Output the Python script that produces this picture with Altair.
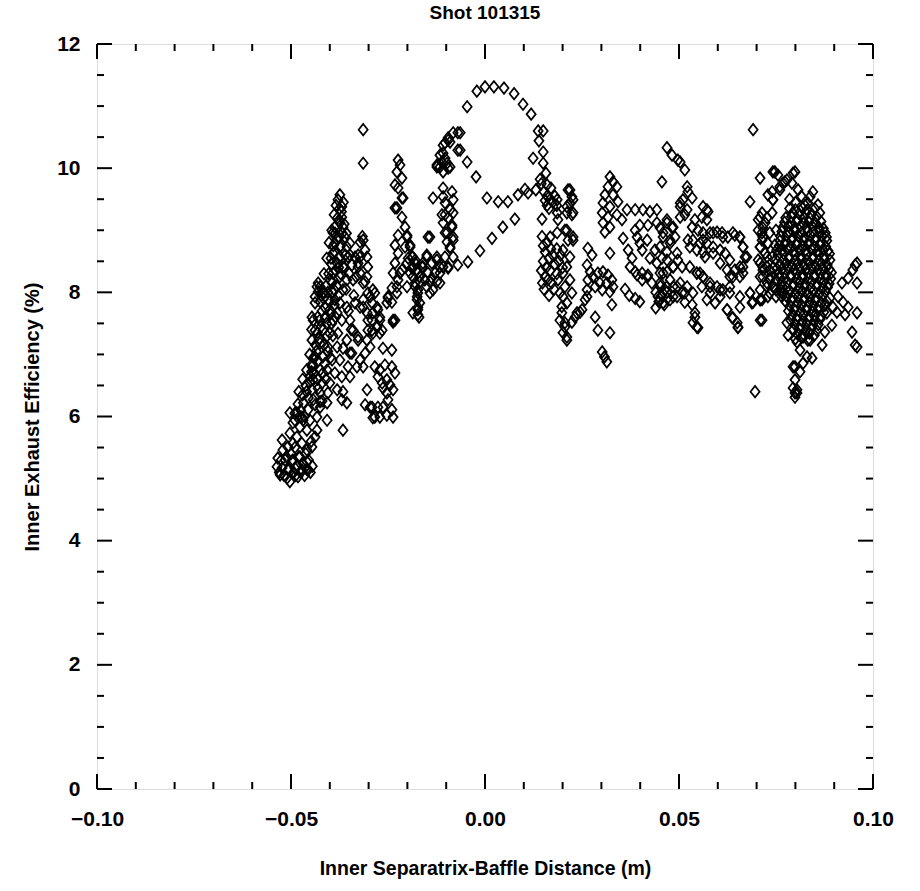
import altair as alt
import pandas as pd

FONT = "Liberation Sans"

# ---- data (x in m, y in %) ----
left_blob = [
    (-0.0534, 5.33), (-0.0536, 5.19), (-0.0528, 5.06), (-0.0523, 5.17), (-0.0523, 5.62), (-0.0521, 5.46),
    (-0.0515, 5.30), (-0.0510, 5.01), (-0.0508, 5.14), (-0.0508, 5.51), (-0.0503, 4.95), (-0.0503, 5.73),
    (-0.0495, 5.30), (-0.0495, 5.57), (-0.0495, 5.90), (-0.0490, 5.17), (-0.0485, 5.67), (-0.0485, 6.06),
    (-0.0482, 5.03), (-0.0477, 5.35), (-0.0477, 5.83), (-0.0472, 5.14), (-0.0472, 5.57), (-0.0469, 5.94),
    (-0.0459, 5.27), (-0.0459, 5.46), (-0.0459, 5.78), (-0.0456, 5.14), (-0.0451, 5.94), (-0.0446, 5.51),
    (-0.0438, 5.67), (-0.0433, 5.78), (-0.0433, 5.99), (-0.0530, 5.10), (-0.0525, 5.30), (-0.0518, 5.05),
    (-0.0512, 5.35), (-0.0505, 5.15), (-0.0500, 5.40), (-0.0498, 5.28), (-0.0493, 5.10), (-0.0490, 5.50),
    (-0.0488, 5.05), (-0.0483, 5.20), (-0.0480, 5.35), (-0.0475, 5.10), (-0.0470, 5.25), (-0.0465, 5.05),
    (-0.0462, 5.40), (-0.0460, 5.15), (-0.0455, 5.30), (-0.0450, 5.10), (-0.0448, 5.60), (-0.0445, 5.20),
    (-0.0503, 6.06), (-0.0490, 5.94), (-0.0472, 5.99), (-0.0456, 6.11), (-0.0438, 6.19), (-0.0425, 6.24),
    (-0.0407, 5.94), (-0.0366, 5.78),
]

left_spine = [
    (-0.0374, 9.57), (-0.0379, 9.49), (-0.0369, 9.38), (-0.0384, 9.40), (-0.0369, 9.21), (-0.0387, 9.05),
    (-0.0374, 9.12), (-0.0366, 9.05), (-0.0392, 8.96), (-0.0379, 8.89), (-0.0361, 8.89), (-0.0387, 8.79),
    (-0.0374, 8.73), (-0.0356, 8.73), (-0.0392, 8.63), (-0.0374, 8.57), (-0.0348, 8.60), (-0.0335, 8.57),
    (-0.0381, 8.47), (-0.0366, 8.41), (-0.0343, 8.44), (-0.0327, 8.47), (-0.0322, 8.31), (-0.0392, 8.31),
    (-0.0374, 8.25), (-0.0356, 8.20), (-0.0340, 8.20), (-0.0394, 8.15), (-0.0381, 8.09), (-0.0366, 8.04),
    (-0.0309, 8.17), (-0.0302, 7.99), (-0.0425, 8.09), (-0.0430, 8.01), (-0.0418, 7.99), (-0.0438, 7.83),
    (-0.0405, 7.88), (-0.0387, 7.88), (-0.0374, 7.83), (-0.0356, 7.76), (-0.0335, 7.83), (-0.0322, 7.76),
    (-0.0400, 7.72), (-0.0381, 7.67), (-0.0412, 7.60), (-0.0392, 7.55), (-0.0369, 7.55), (-0.0348, 7.55),
    (-0.0443, 7.55), (-0.0438, 7.39), (-0.0418, 7.39), (-0.0400, 7.34), (-0.0379, 7.34), (-0.0340, 7.39),
    (-0.0327, 7.28), (-0.0446, 7.23), (-0.0425, 7.18), (-0.0405, 7.12), (-0.0381, 7.12), (-0.0366, 7.10),
    (-0.0348, 7.02), (-0.0438, 6.96), (-0.0418, 6.96), (-0.0394, 6.91), (-0.0374, 6.91), (-0.0446, 6.80),
    (-0.0425, 6.75), (-0.0407, 6.75), (-0.0387, 6.70), (-0.0369, 6.64), (-0.0353, 6.80), (-0.0348, 6.64),
    (-0.0443, 6.59), (-0.0420, 6.54), (-0.0400, 6.54), (-0.0446, 6.43), (-0.0425, 6.38), (-0.0405, 6.38),
    (-0.0381, 6.43), (-0.0366, 6.40), (-0.0356, 6.22), (-0.0443, 6.27), (-0.0425, 6.15), (-0.0407, 6.22),
    (-0.0369, 6.27), (-0.0490, 6.05), (-0.0482, 6.20), (-0.0475, 6.10), (-0.0470, 6.35), (-0.0462, 6.50),
    (-0.0455, 6.30), (-0.0450, 6.65), (-0.0445, 6.85), (-0.0440, 6.70), (-0.0435, 7.05), (-0.0430, 6.90),
    (-0.0428, 7.25), (-0.0422, 7.45), (-0.0415, 7.15), (-0.0412, 7.75), (-0.0408, 7.50), (-0.0405, 8.00),
    (-0.0400, 7.85), (-0.0398, 8.20), (-0.0395, 8.45), (-0.0390, 8.05), (-0.0388, 8.65), (-0.0385, 8.35),
    (-0.0382, 8.85), (-0.0378, 8.55), (-0.0376, 9.15), (-0.0372, 8.75), (-0.0370, 9.30), (-0.0368, 8.95),
    (-0.0365, 9.45), (-0.0420, 6.25), (-0.0410, 6.60), (-0.0398, 6.95), (-0.0392, 7.30), (-0.0385, 7.60),
    (-0.0378, 7.95), (-0.0372, 8.30), (-0.0362, 8.40), (-0.0358, 8.05), (-0.0352, 7.70), (-0.0345, 7.40),
    (-0.0338, 7.95), (-0.0332, 8.25), (-0.0430, 8.15), (-0.0438, 7.93), (-0.0433, 8.09), (-0.0446, 7.60),
]

spine_fill = [
    (-0.0478, 6.00), (-0.0468, 6.22), (-0.0460, 6.40), (-0.0452, 6.55), (-0.0447, 6.72), (-0.0442, 6.95),
    (-0.0437, 7.15), (-0.0432, 7.35), (-0.0426, 7.55), (-0.0420, 7.70), (-0.0416, 7.90), (-0.0410, 8.10),
    (-0.0403, 8.30), (-0.0397, 8.55), (-0.0391, 8.75), (-0.0386, 8.95), (-0.0380, 9.20), (-0.0375, 9.35),
    (-0.0460, 6.75), (-0.0452, 7.00), (-0.0447, 7.40), (-0.0431, 7.60), (-0.0425, 7.85), (-0.0415, 8.30),
    (-0.0408, 8.55), (-0.0402, 8.80), (-0.0395, 9.00), (-0.0389, 9.25), (-0.0413, 6.85), (-0.0405, 7.05),
    (-0.0395, 7.50), (-0.0388, 7.80), (-0.0382, 8.10), (-0.0377, 8.40), (-0.0360, 8.60), (-0.0363, 9.10),
    (-0.0357, 8.95), (-0.0350, 8.30), (-0.0430, 6.45), (-0.0418, 6.70), (-0.0407, 7.30), (-0.0398, 7.65),
    (-0.0392, 8.00), (-0.0415, 8.00), (-0.0422, 7.95), (-0.0432, 6.60), (-0.0470, 6.60), (-0.0480, 6.40),
    (-0.0465, 6.00),
]

left_band = [
    (-0.0348, 8.79), (-0.0353, 8.57), (-0.0322, 8.57), (-0.0327, 8.41), (-0.0304, 8.25), (-0.0314, 8.15),
    (-0.0289, 8.04), (-0.0296, 7.93), (-0.0278, 7.76), (-0.0289, 7.67), (-0.0271, 7.55), (-0.0314, 7.76),
    (-0.0302, 7.55), (-0.0237, 7.55), (-0.0314, 7.88), (-0.0304, 7.67), (-0.0291, 7.83), (-0.0284, 7.99),
    (-0.0276, 7.72), (-0.0278, 7.44), (-0.0291, 7.39), (-0.0265, 7.39), (-0.0271, 7.34), (-0.0296, 7.12),
    (-0.0309, 7.02), (-0.0322, 6.91), (-0.0314, 6.80), (-0.0330, 6.80), (-0.0343, 7.02), (-0.0327, 7.23),
    (-0.0356, 7.23), (-0.0322, 8.81), (-0.0309, 8.68), (-0.0304, 8.57), (-0.0302, 8.41), (-0.0327, 8.60),
    (-0.0314, 10.62), (-0.0314, 10.08), (-0.0314, 8.84), (-0.0316, 8.90),
    (-0.0284, 6.80), (-0.0271, 6.75), (-0.0258, 6.83), (-0.0240, 6.80), (-0.0232, 6.70), (-0.0253, 6.59),
    (-0.0265, 6.54), (-0.0276, 6.64), (-0.0245, 6.51), (-0.0237, 6.43), (-0.0253, 6.38), (-0.0263, 6.46),
    (-0.0250, 6.27), (-0.0240, 6.11), (-0.0237, 5.99), (-0.0253, 6.02), (-0.0271, 5.99), (-0.0289, 5.98),
    (-0.0296, 6.15), (-0.0276, 6.15), (-0.0304, 6.43), (-0.0309, 6.19), (-0.0240, 7.07), (-0.0263, 7.10),
    (-0.0289, 7.34), (-0.0291, 7.55), (-0.0302, 7.39), (-0.0304, 7.23), (-0.0237, 7.52), (-0.0271, 7.60),
    (-0.0291, 6.15), (-0.0284, 5.99), (-0.0263, 6.15),
]

column_a = [
    (-0.0224, 10.13), (-0.0219, 10.05), (-0.0227, 9.94), (-0.0214, 9.84), (-0.0232, 9.73), (-0.0224, 9.68),
    (-0.0214, 9.52), (-0.0227, 9.36), (-0.0214, 9.21), (-0.0206, 9.05), (-0.0224, 8.92), (-0.0201, 8.89),
    (-0.0232, 8.76), (-0.0206, 8.73), (-0.0193, 8.73), (-0.0224, 8.63), (-0.0198, 8.55), (-0.0232, 8.47),
    (-0.0214, 8.36), (-0.0237, 8.31), (-0.0224, 8.20), (-0.0240, 8.07), (-0.0227, 7.99), (-0.0250, 7.91),
    (-0.0240, 7.84), (-0.0253, 7.83), (-0.0211, 9.52), (-0.0232, 9.36), (-0.0201, 8.92), (-0.0193, 8.76),
    (-0.0219, 8.31), (-0.0227, 8.09), (-0.0250, 7.93), (-0.0232, 7.55),
]

column_b = [
    (-0.0201, 8.47), (-0.0188, 8.57), (-0.0180, 8.52), (-0.0186, 8.41), (-0.0193, 8.31), (-0.0175, 8.36),
    (-0.0168, 8.25), (-0.0180, 8.15), (-0.0173, 8.04), (-0.0175, 7.93), (-0.0168, 7.83), (-0.0173, 7.72),
    (-0.0170, 7.60), (-0.0160, 8.41), (-0.0155, 8.20), (-0.0150, 8.09), (-0.0147, 8.31), (-0.0137, 8.47),
    (-0.0142, 7.99), (-0.0134, 8.04), (-0.0124, 8.17), (-0.0116, 8.31), (-0.0108, 8.41), (-0.0150, 8.60),
    (-0.0186, 8.57), (-0.0180, 8.47), (-0.0188, 8.39), (-0.0173, 8.31), (-0.0186, 8.25), (-0.0168, 8.17),
    (-0.0180, 8.09), (-0.0173, 7.99), (-0.0175, 7.88), (-0.0173, 7.76), (-0.0173, 7.64), (-0.0201, 8.09),
    (-0.0160, 8.47), (-0.0142, 8.17), (-0.0142, 8.89), (-0.0150, 8.57), (-0.0124, 8.52), (-0.0129, 8.31),
    (-0.0137, 8.23), (-0.0116, 8.15), (-0.0162, 8.41), (-0.0186, 7.67), (-0.0147, 8.89),
]

column_c = [
    (-0.0095, 10.49), (-0.0090, 10.42), (-0.0103, 10.41), (-0.0082, 10.57), (-0.0070, 10.57), (-0.0070, 10.29),
    (-0.0108, 10.24), (-0.0111, 10.10), (-0.0098, 10.08), (-0.0116, 10.02), (-0.0124, 10.02), (-0.0090, 10.02),
    (-0.0108, 9.94), (-0.0134, 9.52), (-0.0108, 9.54), (-0.0108, 9.68), (-0.0085, 9.62), (-0.0082, 9.49),
    (-0.0103, 9.44), (-0.0090, 9.33), (-0.0111, 9.25), (-0.0095, 9.20), (-0.0108, 9.12), (-0.0085, 9.05),
    (-0.0098, 8.96), (-0.0082, 8.84), (-0.0090, 8.73), (-0.0082, 8.57), (-0.0070, 8.44), (-0.0095, 8.41),
    (-0.0103, 9.25), (-0.0082, 9.28), (-0.0085, 9.08), (-0.0103, 8.96), (-0.0082, 8.89), (-0.0098, 8.81),
    (-0.0090, 8.71), (-0.0103, 8.57), (-0.0116, 8.41), (-0.0095, 8.39), (-0.0124, 8.57), (-0.0095, 10.45),
    (-0.0108, 10.37), (-0.0116, 10.21), (-0.0103, 10.16), (-0.0124, 10.05), (-0.0095, 10.00),
]

arc = [
    (-0.0046, 10.99), (-0.0021, 11.24), (0.0000, 11.31), (0.0023, 11.31), (0.0049, 11.29), (0.0075, 11.20),
    (0.0098, 11.03), (0.0119, 10.87), (0.0137, 10.60), (0.0150, 10.60), (0.0139, 10.44), (0.0150, 10.26),
    (0.0124, 10.16), (0.0150, 10.08), (0.0157, 9.92), (0.0142, 9.82), (0.0160, 9.73),
    (-0.0064, 10.57), (-0.0064, 10.29), (-0.0046, 10.10), (-0.0023, 9.86), (0.0005, 9.52), (0.0034, 9.46),
    (0.0059, 9.46), (0.0085, 9.57), (0.0103, 9.66), (0.0111, 9.60), (0.0131, 9.65),
    (-0.0044, 8.49), (-0.0013, 8.67), (0.0018, 8.87), (0.0046, 9.05), (0.0077, 9.18), (0.0147, 9.18),
    (0.0145, 9.75), (0.0152, 9.62), (0.0160, 9.55), (0.0168, 9.50), (0.0175, 9.45), (0.0160, 9.40),
    (0.0170, 9.68), (0.0180, 9.55), (0.0185, 9.40), (0.0155, 9.48), (0.0165, 9.35),
]

middle = [
    (0.0186, 9.49), (0.0214, 9.65), (0.0224, 9.54), (0.0219, 9.44), (0.0211, 9.28), (0.0227, 9.28),
    (0.0186, 9.28), (0.0188, 9.17), (0.0211, 9.00), (0.0227, 8.89), (0.0186, 8.96), (0.0168, 8.89),
    (0.0219, 9.65), (0.0227, 9.49), (0.0211, 9.38), (0.0224, 9.25), (0.0206, 9.00), (0.0214, 8.84),
    (0.0227, 8.84), (0.0201, 8.68), (0.0219, 8.57), (0.0211, 8.41), (0.0201, 8.31), (0.0219, 8.20),
    (0.0206, 8.09), (0.0224, 7.99), (0.0201, 7.93), (0.0211, 7.83), (0.0198, 7.67), (0.0206, 7.51),
    (0.0224, 7.52), (0.0237, 7.67), (0.0250, 7.72), (0.0201, 7.35), (0.0211, 7.23), (0.0232, 7.60),
    (0.0245, 7.68), (0.0147, 8.90), (0.0150, 8.75), (0.0155, 8.65), (0.0160, 8.80), (0.0165, 8.55),
    (0.0170, 8.70), (0.0150, 8.50), (0.0158, 8.40), (0.0168, 8.35), (0.0175, 8.60), (0.0180, 8.45),
    (0.0185, 8.30), (0.0155, 8.25), (0.0148, 8.15), (0.0162, 8.20), (0.0172, 8.15), (0.0178, 8.05),
    (0.0165, 7.95), (0.0190, 8.50), (0.0185, 8.70), (0.0195, 8.60), (0.0200, 8.40), (0.0188, 8.20),
    (0.0152, 8.05), (0.0145, 8.35), (0.0193, 7.99), (0.0198, 7.77), (0.0206, 7.44), (0.0193, 7.55),
    (0.0211, 7.28), (0.0263, 7.93),
]

middle_right = [
    (0.0265, 8.71), (0.0276, 8.60), (0.0263, 8.44), (0.0271, 8.33), (0.0265, 8.20), (0.0263, 8.04),
    (0.0258, 7.88), (0.0322, 8.63), (0.0278, 8.25), (0.0291, 8.31), (0.0304, 8.33), (0.0317, 8.28),
    (0.0327, 8.20), (0.0330, 8.09), (0.0314, 8.15), (0.0296, 8.15), (0.0284, 8.09), (0.0302, 8.04),
    (0.0322, 8.01), (0.0327, 7.80), (0.0284, 7.60), (0.0291, 7.39), (0.0322, 7.35), (0.0302, 7.04),
    (0.0314, 6.88), (0.0308, 6.96), (0.0322, 9.86), (0.0330, 9.78), (0.0317, 9.70), (0.0340, 9.70),
    (0.0309, 9.57), (0.0330, 9.57), (0.0304, 9.44), (0.0322, 9.38), (0.0343, 9.46), (0.0302, 9.28),
    (0.0317, 9.21), (0.0340, 9.25), (0.0304, 9.12), (0.0322, 9.05), (0.0309, 8.97), (0.0353, 9.17),
    (0.0366, 9.33), (0.0387, 9.33), (0.0407, 9.33), (0.0425, 9.30), (0.0443, 9.33), (0.0456, 9.78),
    (0.0469, 10.33), (0.0482, 10.21), (0.0497, 10.13), (0.0515, 9.97), (0.0503, 10.10),
]

loop = [
    (0.0356, 8.87), (0.0369, 8.68), (0.0379, 8.55), (0.0374, 8.41), (0.0387, 8.33), (0.0405, 8.31),
    (0.0420, 8.28), (0.0399, 9.08), (0.0387, 9.00), (0.0392, 8.89), (0.0399, 8.79), (0.0405, 8.68),
    (0.0418, 8.84), (0.0420, 9.08), (0.0443, 9.12), (0.0451, 9.04), (0.0459, 8.89), (0.0469, 9.12),
    (0.0482, 9.04), (0.0490, 8.89), (0.0438, 8.68), (0.0425, 8.55), (0.0443, 8.47), (0.0456, 8.55),
    (0.0469, 8.65), (0.0477, 8.79), (0.0451, 8.31), (0.0469, 8.33), (0.0485, 8.41), (0.0497, 8.52),
    (0.0451, 8.15), (0.0469, 8.09), (0.0485, 8.09), (0.0446, 7.93), (0.0459, 7.83), (0.0477, 7.88),
    (0.0495, 7.93), (0.0503, 8.15), (0.0515, 7.99), (0.0503, 9.44), (0.0515, 9.25), (0.0523, 8.84),
    (0.0392, 8.28), (0.0405, 8.20), (0.0418, 8.25), (0.0430, 8.15), (0.0440, 8.00), (0.0448, 7.85),
    (0.0455, 7.95), (0.0462, 7.80), (0.0470, 7.90), (0.0440, 7.75), (0.0452, 8.10), (0.0468, 8.00),
    (0.0361, 8.05), (0.0372, 7.95), (0.0387, 7.90), (0.0399, 7.85),
    (0.0521, 9.70), (0.0523, 9.62), (0.0510, 9.49), (0.0534, 9.52), (0.0503, 9.38), (0.0521, 9.33),
    (0.0503, 9.21), (0.0469, 9.17), (0.0485, 9.05), (0.0459, 8.96), (0.0477, 8.84), (0.0451, 8.73),
    (0.0495, 8.63), (0.0469, 8.52), (0.0485, 8.41), (0.0459, 8.31), (0.0477, 8.20), (0.0495, 8.09),
    (0.0464, 8.04), (0.0485, 7.93), (0.0508, 7.99), (0.0521, 8.09), (0.0536, 7.99), (0.0515, 7.84),
    (0.0534, 7.80), (0.0541, 7.60), (0.0536, 7.51), (0.0549, 7.43), (0.0546, 7.44), (0.0541, 7.67),
    (0.0508, 8.41), (0.0528, 8.41), (0.0546, 8.31),
]

right_middle = [
    (0.0562, 9.38), (0.0575, 9.30), (0.0559, 9.21), (0.0572, 9.17), (0.0541, 9.17), (0.0534, 9.05),
    (0.0549, 9.00), (0.0562, 8.96), (0.0580, 8.96), (0.0598, 8.97), (0.0611, 8.96), (0.0626, 8.89),
    (0.0644, 8.92), (0.0657, 8.89), (0.0536, 8.84), (0.0554, 8.79), (0.0572, 8.79), (0.0528, 8.73),
    (0.0546, 8.68), (0.0562, 8.65), (0.0588, 8.73), (0.0606, 8.68), (0.0619, 8.63), (0.0631, 8.52),
    (0.0665, 8.73), (0.0675, 8.57), (0.0665, 8.41), (0.0644, 8.36), (0.0657, 8.25), (0.0631, 8.25),
    (0.0562, 8.25), (0.0559, 8.09), (0.0580, 8.15), (0.0598, 8.09), (0.0613, 8.04), (0.0631, 8.09),
    (0.0580, 7.99), (0.0606, 7.93), (0.0572, 7.88), (0.0593, 7.83), (0.0624, 7.72), (0.0637, 7.59),
    (0.0650, 7.51), (0.0652, 7.43), (0.0683, 7.99), (0.0691, 7.84), (0.0709, 7.88), (0.0709, 7.55),
    (0.0657, 7.76), (0.0691, 10.62), (0.0709, 9.84), (0.0747, 9.94), (0.0755, 9.89), (0.0729, 9.57),
    (0.0742, 9.49), (0.0683, 9.46), (0.0760, 9.70), (0.0773, 9.78), (0.0572, 9.33), (0.0562, 8.84),
    (0.0588, 8.96), (0.0613, 8.89), (0.0639, 8.96), (0.0657, 8.89), (0.0665, 8.73), (0.0670, 8.57),
    (0.0657, 8.41), (0.0665, 8.31), (0.0639, 8.25), (0.0624, 8.36), (0.0606, 8.47), (0.0588, 8.63),
    (0.0567, 8.57), (0.0554, 8.31), (0.0580, 8.09), (0.0606, 8.04), (0.0631, 7.99), (0.0657, 7.93),
    (0.0683, 7.99), (0.0709, 7.88), (0.0624, 7.72), (0.0639, 7.59), (0.0652, 7.44), (0.0688, 7.83),
    (0.0696, 6.40), (0.0546, 8.31), (0.0562, 8.25),
]

right_left_lobe = [
    (0.0709, 9.21), (0.0722, 9.12), (0.0704, 9.00), (0.0716, 8.89), (0.0729, 8.79), (0.0709, 8.73),
    (0.0722, 8.63), (0.0704, 8.52), (0.0716, 8.41), (0.0734, 8.36), (0.0709, 8.25), (0.0727, 8.15),
    (0.0742, 8.09), (0.0709, 8.04), (0.0734, 7.99), (0.0750, 7.93), (0.0765, 7.93), (0.0704, 9.17),
    (0.0714, 8.96), (0.0709, 8.73), (0.0727, 8.57), (0.0716, 8.36), (0.0734, 8.20), (0.0750, 8.04),
    (0.0765, 7.99), (0.0714, 9.28), (0.0727, 9.20), (0.0740, 9.28), (0.0716, 9.04), (0.0734, 8.96),
    (0.0750, 9.00), (0.0714, 8.84), (0.0729, 8.79), (0.0747, 8.76), (0.0722, 8.63), (0.0740, 8.57),
    (0.0709, 8.47), (0.0727, 8.41), (0.0742, 8.39), (0.0716, 8.25), (0.0734, 8.23), (0.0750, 8.20),
    (0.0727, 8.09), (0.0747, 8.07), (0.0763, 8.04), (0.0714, 7.88), (0.0714, 7.55), (0.0729, 7.93),
]

right_core = [
    (0.0742, 9.94), (0.0794, 9.92), (0.0799, 9.94), (0.0778, 9.81), (0.0768, 9.76), (0.0760, 9.65),
    (0.0791, 9.76), (0.0807, 9.65), (0.0740, 9.62), (0.0742, 9.49), (0.0845, 9.62), (0.0838, 9.54),
    (0.0832, 9.44), (0.0858, 9.41), (0.0863, 9.28),
    (0.0785, 9.50), (0.0800, 9.45), (0.0815, 9.55), (0.0825, 9.40),
    (0.0785, 9.35), (0.0800, 9.33), (0.0818, 9.36), (0.0830, 9.32), (0.0850, 9.35),
    (0.0775, 9.20), (0.0790, 9.22), (0.0805, 9.18), (0.0822, 9.21), (0.0838, 9.19), (0.0855, 9.22),
    (0.0768, 9.05), (0.0782, 9.07), (0.0797, 9.03), (0.0812, 9.06), (0.0828, 9.04), (0.0843, 9.07),
    (0.0860, 9.05), (0.0872, 9.03),
    (0.0762, 8.90), (0.0778, 8.92), (0.0793, 8.88), (0.0808, 8.91), (0.0824, 8.89), (0.0839, 8.92),
    (0.0853, 8.88), (0.0868, 8.91), (0.0880, 8.89),
    (0.0758, 8.75), (0.0772, 8.77), (0.0787, 8.73), (0.0803, 8.76), (0.0818, 8.74), (0.0833, 8.77),
    (0.0849, 8.73), (0.0864, 8.76), (0.0878, 8.74),
    (0.0755, 8.60), (0.0770, 8.62), (0.0784, 8.58), (0.0799, 8.61), (0.0815, 8.59), (0.0830, 8.62),
    (0.0846, 8.58), (0.0861, 8.61), (0.0875, 8.59), (0.0888, 8.62),
    (0.0760, 8.45), (0.0776, 8.47), (0.0791, 8.43), (0.0806, 8.46), (0.0821, 8.44), (0.0837, 8.47),
    (0.0852, 8.43), (0.0867, 8.46), (0.0882, 8.44),
    (0.0757, 8.30), (0.0773, 8.32), (0.0788, 8.28), (0.0803, 8.31), (0.0819, 8.29), (0.0834, 8.32),
    (0.0849, 8.28), (0.0865, 8.31), (0.0880, 8.29), (0.0893, 8.32),
    (0.0765, 8.15), (0.0780, 8.17), (0.0796, 8.13), (0.0811, 8.16), (0.0826, 8.14), (0.0842, 8.17),
    (0.0857, 8.13), (0.0872, 8.16), (0.0887, 8.14),
    (0.0770, 8.00), (0.0785, 8.02), (0.0800, 7.98), (0.0816, 8.01), (0.0831, 7.99), (0.0846, 8.02),
    (0.0862, 7.98), (0.0877, 8.01),
    (0.0775, 7.85), (0.0790, 7.87), (0.0806, 7.83), (0.0821, 7.86), (0.0836, 7.84), (0.0851, 7.87),
    (0.0867, 7.83), (0.0881, 7.86),
    (0.0782, 7.70), (0.0797, 7.72), (0.0812, 7.68), (0.0828, 7.71), (0.0843, 7.69), (0.0858, 7.72),
    (0.0873, 7.68),
    (0.0788, 7.55), (0.0803, 7.57), (0.0818, 7.53), (0.0833, 7.56), (0.0849, 7.54), (0.0864, 7.57),
    (0.0795, 7.40), (0.0810, 7.42), (0.0826, 7.38), (0.0840, 7.41), (0.0855, 7.39),
    (0.0800, 7.25), (0.0816, 7.27), (0.0832, 7.23),
]

core_fill = [
    (0.0793, 9.28), (0.0809, 9.27), (0.0826, 9.29), (0.0842, 9.26),
    (0.0772, 9.13), (0.0789, 9.12), (0.0804, 9.14), (0.0820, 9.11), (0.0835, 9.13), (0.0851, 9.12),
    (0.0866, 9.14),
    (0.0765, 8.98), (0.0785, 8.97), (0.0800, 8.99), (0.0816, 8.96), (0.0832, 8.98), (0.0847, 8.97),
    (0.0862, 8.99), (0.0877, 8.96),
    (0.0760, 8.83), (0.0775, 8.82), (0.0790, 8.84), (0.0805, 8.81), (0.0821, 8.83), (0.0836, 8.82),
    (0.0851, 8.84), (0.0866, 8.81), (0.0881, 8.83),
    (0.0752, 8.68), (0.0765, 8.67), (0.0779, 8.69), (0.0795, 8.66), (0.0810, 8.68), (0.0826, 8.67),
    (0.0841, 8.69), (0.0856, 8.66), (0.0871, 8.68), (0.0884, 8.67),
    (0.0750, 8.53), (0.0768, 8.52), (0.0783, 8.54), (0.0798, 8.51), (0.0814, 8.53), (0.0829, 8.52),
    (0.0844, 8.54), (0.0859, 8.51), (0.0874, 8.53), (0.0889, 8.52),
    (0.0752, 8.38), (0.0765, 8.37), (0.0781, 8.39), (0.0796, 8.36), (0.0811, 8.38), (0.0827, 8.37),
    (0.0842, 8.39), (0.0857, 8.36), (0.0872, 8.38), (0.0887, 8.37),
    (0.0760, 8.23), (0.0772, 8.22), (0.0788, 8.24), (0.0803, 8.21), (0.0818, 8.23), (0.0834, 8.22),
    (0.0849, 8.24), (0.0864, 8.21), (0.0879, 8.23), (0.0891, 8.22),
    (0.0767, 8.08), (0.0777, 8.07), (0.0793, 8.09), (0.0808, 8.06), (0.0823, 8.08), (0.0839, 8.07),
    (0.0854, 8.09), (0.0869, 8.06), (0.0883, 8.08),
    (0.0778, 7.93), (0.0793, 7.92), (0.0808, 7.94), (0.0824, 7.91), (0.0839, 7.93), (0.0854, 7.92),
    (0.0870, 7.94),
    (0.0786, 7.78), (0.0801, 7.77), (0.0816, 7.79), (0.0831, 7.76), (0.0846, 7.78), (0.0861, 7.77),
    (0.0876, 7.79),
    (0.0792, 7.63), (0.0806, 7.62), (0.0821, 7.64), (0.0836, 7.61), (0.0851, 7.63), (0.0866, 7.62),
    (0.0799, 7.48), (0.0814, 7.47), (0.0829, 7.49), (0.0845, 7.46), (0.0859, 7.48),
    (0.0805, 7.33), (0.0821, 7.32), (0.0836, 7.34), (0.0849, 7.31),
]

right_spray = [
    (0.0778, 7.51), (0.0794, 7.39), (0.0781, 7.31), (0.0804, 7.20), (0.0820, 7.28), (0.0838, 7.23),
    (0.0812, 7.07), (0.0830, 6.96), (0.0843, 6.94), (0.0820, 6.86), (0.0794, 6.80), (0.0812, 6.72),
    (0.0799, 6.59), (0.0794, 6.46), (0.0804, 6.38), (0.0799, 6.31), (0.0869, 7.15), (0.0876, 7.36),
    (0.0894, 7.47), (0.0907, 7.68), (0.0920, 8.15), (0.0936, 8.23), (0.0954, 8.44), (0.0948, 8.36),
    (0.0959, 8.47), (0.0959, 8.15), (0.0910, 7.93), (0.0923, 7.84), (0.0936, 7.76), (0.0928, 7.64),
    (0.0959, 7.67), (0.0946, 7.36), (0.0954, 7.15), (0.0959, 7.12), (0.0889, 7.91), (0.0897, 7.76),
    (0.0881, 7.67), (0.0799, 6.80), (0.0804, 6.43), (0.0799, 6.38),
]

groups = [left_blob, left_spine, spine_fill, left_band, column_a, column_b, column_c, arc, middle,
          middle_right, loop, right_middle, right_left_lobe, right_core, core_fill, right_spray]

x_major = [-0.10, -0.05, 0.0, 0.05, 0.10]
x_minor = [-0.09, -0.08, -0.07, -0.06, -0.04, -0.03, -0.02, -0.01,
           0.01, 0.02, 0.03, 0.04, 0.06, 0.07, 0.08, 0.09]
y_major = [0, 2, 4, 6, 8, 10, 12]
y_minor = [0.5, 1, 1.5, 2.5, 3, 3.5, 4.5, 5, 5.5, 6.5, 7, 7.5, 8.5, 9, 9.5, 10.5, 11, 11.5]

W, H = 776, 745
MAJ, MIN = 15, 7

rows = [{"x": px, "y": py} for g in groups for (px, py) in g]
df = pd.DataFrame(rows)

xs = alt.Scale(domain=[-0.10, 0.10], nice=False, zero=False)
ys = alt.Scale(domain=[0, 12], nice=False, zero=False)

x_axis = alt.Axis(
    values=x_major, format=".2f", ticks=False, tickSize=0, domain=False, grid=False,
    labelFont=FONT, labelFontSize=21, labelFontWeight="bold", labelColor="black",
    labelPadding=19, labelFlush=False,
    title="Inner Separatrix-Baffle Distance (m)", titleFont=FONT, titleFontSize=19.5,
    titleFontWeight="bold", titleColor="black", titlePadding=30)
y_axis = alt.Axis(
    values=y_major, format="d", ticks=False, tickSize=0, domain=False, grid=False,
    labelFont=FONT, labelFontSize=21, labelFontWeight="bold", labelColor="black",
    labelPadding=17, labelFlush=False,
    title="Inner Exhaust Efficiency (%)", titleFont=FONT, titleFontSize=20,
    titleFontWeight="bold", titleColor="black", titlePadding=14)

points = alt.Chart(df).mark_point(
    shape="M-0.8,0L0,-1L0.8,0L0,1Z", size=130, filled=False,
    stroke="black", strokeWidth=1.7, opacity=1,
).encode(
    x=alt.X("x:Q", scale=xs, axis=x_axis),
    y=alt.Y("y:Q", scale=ys, axis=y_axis),
)


def xticks(vals, length):
    d = pd.DataFrame({"x": vals})
    base = alt.Chart(d).mark_rule(color="black", strokeWidth=2)
    bottom = base.encode(x=alt.X("x:Q", scale=xs, axis=x_axis), y=alt.value(H), y2=alt.value(H - length))
    top = base.encode(x=alt.X("x:Q", scale=xs, axis=x_axis), y=alt.value(0), y2=alt.value(length))
    return [bottom, top]


def yticks(vals, length):
    d = pd.DataFrame({"y": vals})
    base = alt.Chart(d).mark_rule(color="black", strokeWidth=2)
    left = base.encode(y=alt.Y("y:Q", scale=ys, axis=y_axis), x=alt.value(0), x2=alt.value(length))
    right = base.encode(y=alt.Y("y:Q", scale=ys, axis=y_axis), x=alt.value(W), x2=alt.value(W - length))
    return [left, right]


layers = [points] + xticks(x_major, MAJ) + xticks(x_minor, MIN) + yticks(y_major, MAJ) + yticks(y_minor, MIN)

chart = alt.layer(*layers).properties(
    width=W, height=H,
    title=alt.TitleParams("Shot 101315", font=FONT, fontSize=19, fontWeight="bold",
                          color="black", anchor="middle", offset=10),
    autosize=alt.AutoSizeParams(type="none"),
    padding={"left": 97, "top": 44, "right": 47, "bottom": 102},
).configure_view(stroke="black", strokeWidth=2).configure(background="white")

chart.save("out.html", embed_options={"renderer": "svg", "actions": False})
